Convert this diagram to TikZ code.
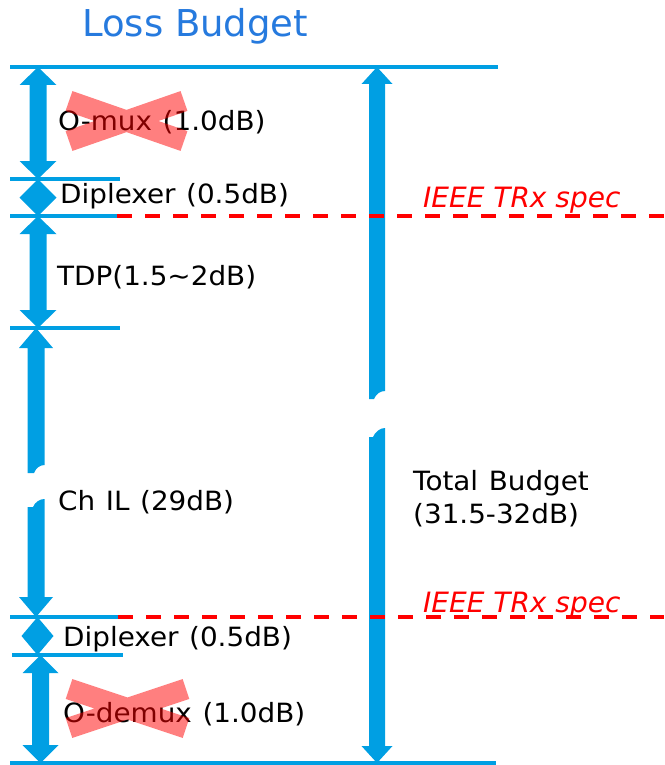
\documentclass[tikz,border=0pt]{standalone}
\usepackage{fontspec}
\setmainfont{DejaVu Sans}
\newfontfamily\bodyfont[FakeStretch=1.05,WordSpace=1.2]{DejaVu Sans}
\definecolor{lineblue}{RGB}{0,159,227}
\definecolor{titleblue}{RGB}{38,122,222}
\tikzset{
  level/.style={draw=lineblue, line width=4pt},
  spec/.style={draw=red, line width=4.5pt, dash pattern=on 15pt off 13pt},
  lbl/.style={anchor=base west, inner sep=0pt, font=\bodyfont\fontsize{26.5}{32}\selectfont},
  spectxt/.style={anchor=base west, inner sep=0pt, text=red, font=\itshape\fontsize{28}{33}\selectfont},
  cross/.style={draw=red, draw opacity=0.5, line width=21pt},
}
\newcommand\dimarrow[6]{%
  \fill[lineblue] (#1,#2) -- ({#1+#5},{#2+#6}) -- ({#1+#4},{#2+#6}) -- ({#1+#4},{#3-#6})
    -- ({#1+#5},{#3-#6}) -- (#1,#3) -- ({#1-#5},{#3-#6}) -- ({#1-#4},{#3-#6})
    -- ({#1-#4},{#2+#6}) -- ({#1-#5},{#2+#6}) -- cycle;}
\begin{document}
\begin{tikzpicture}[x=1pt,y=-1pt]
\useasboundingbox (0,0) rectangle (664,765);
% level coordinates
\coordinate (L0a) at (10,67);   \coordinate (L0b) at (498,67);
\coordinate (L1a) at (10,179);  \coordinate (L1b) at (120,179);
\coordinate (L2a) at (10,216);  \coordinate (L2b) at (118,216);
\coordinate (L3a) at (10,328);  \coordinate (L3b) at (120,328);
\coordinate (L4a) at (10,617);  \coordinate (L4b) at (120,617);
\coordinate (L5a) at (12,655);  \coordinate (L5b) at (123,655);
\coordinate (L6a) at (10,763);  \coordinate (L6b) at (496,763);
\coordinate (S1a) at (117,216); \coordinate (S1b) at (664,216);
\coordinate (S2a) at (118,617); \coordinate (S2b) at (664,617);

% left dimension arrows
\dimarrow{38}{67}{179}{8.5}{18.5}{18}
\fill[lineblue] (38,179) -- (56.5,197.5) -- (38,216) -- (19.5,197.5) -- cycle;
\dimarrow{38}{216}{328}{8.5}{18.5}{18}
% Ch IL broken arrow
\fill[lineblue] (36,328) -- (53,348) -- (44.5,348) -- (44.5,465)
  .. controls (40,465) and (36,468) .. (34,473) -- (27.5,473) -- (27.5,348) -- (19,348) -- cycle;
\fill[lineblue] (27.5,507) -- (33,507) .. controls (35,502) and (40,499) .. (44.5,499)
  -- (44.5,597) -- (53,597) -- (36,617) -- (19,597) -- (27.5,597) -- cycle;
\fill[lineblue] (37.5,617) -- (53.5,636) -- (37.5,655) -- (21.5,636) -- cycle;
\dimarrow{40.5}{655}{763}{8.5}{18}{18}

% total broken arrow
\fill[lineblue] (377,67) -- (392.5,84) -- (385,84) -- (385,391)
  .. controls (380,391) and (376,394) .. (374,399) -- (369,399) -- (369,84) -- (361.5,84) -- cycle;
\fill[lineblue] (369,437) -- (373,437) .. controls (375,432) and (380,428) .. (385,428)
  -- (385,746) -- (392.5,746) -- (377,763) -- (361.5,746) -- (369,746) -- cycle;

% level lines
\draw[level] (L0a) -- (L0b);
\draw[level] (L1a) -- (L1b);
\draw[level] (L2a) -- (L2b);
\draw[level] (L3a) -- (L3b);
\draw[level] (L4a) -- (L4b);
\draw[level] (L5a) -- (L5b);
\draw[level] (L6a) -- (L6b);
\draw[spec] (S1a) -- (S1b);
\draw[spec] (S2a) -- (S2b);

% texts
\node[anchor=base west, inner sep=0pt, text=titleblue, font=\fontsize{37}{44}\selectfont] (title) at (82,37) {Loss Budget};
\node[lbl] (omux) at (58,131) {O-mux (1.0dB)};
\node[lbl] (dip1) at (60,203) {Diplexer (0.5dB)};
\node[lbl] (tdp) at (57,285) {TDP(1.5\textasciitilde 2dB)};
\node[lbl] (chil) at (58,510) {Ch IL (29dB)};
\node[lbl] (dip2) at (63,646) {Diplexer (0.5dB)};
\node[lbl] (odemux) at (63,722) {O-demux (1.0dB)};
\node[lbl] (total1) at (413,490) {Total Budget};
\node[lbl] (total2) at (413,523) {(31.5-32dB)};
\node[spectxt] (spec1) at (423,207) {IEEE TRx spec};
\node[spectxt] (spec2) at (423,612) {IEEE TRx spec};

% crosses
\draw[cross] (69,101) -- (184,141) (69,141) -- (184,101);
\draw[cross] (69,689) -- (186,728) (69,728) -- (186,689);
\end{tikzpicture}
\end{document}
